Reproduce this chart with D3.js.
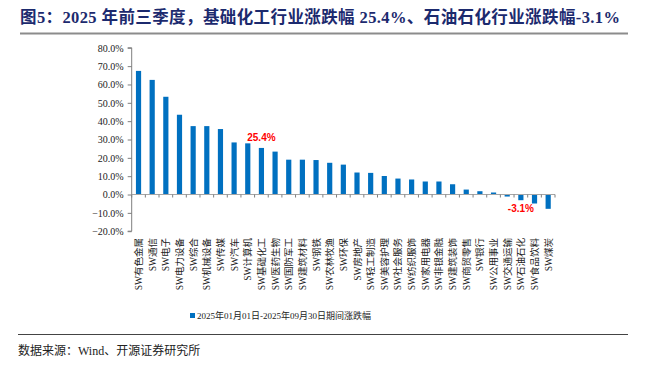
<!DOCTYPE html>
<html><head><meta charset="utf-8">
<script src="https://cdn.jsdelivr.net/npm/d3@7"></script>
<style>body{margin:0;background:#fff;}svg{display:block;}</style>
</head><body>
<svg id="c" width="648" height="369"></svg>
<script>
const categories = ["SW有色金属","SW通信","SW电子","SW电力设备","SW综合","SW机械设备","SW传媒","SW汽车","SW计算机","SW基础化工","SW医药生物","SW国防军工","SW建筑材料","SW钢铁","SW农林牧渔","SW环保","SW房地产","SW轻工制造","SW美容护理","SW社会服务","SW纺织服饰","SW家用电器","SW非银金融","SW建筑装饰","SW商贸零售","SW银行","SW公用事业","SW交通运输","SW石油石化","SW食品饮料","SW煤炭"];
const values = [67.4,62.5,53.3,43.5,37.3,37.3,35.7,28.4,27.9,25.4,23.4,19.0,19.0,18.8,17.3,16.3,12.0,11.8,10.1,8.7,8.2,7.1,7.1,5.6,2.7,1.8,1.1,-1.1,-3.1,-4.9,-7.8];
const yTicks = [80,70,60,50,40,30,20,10,0,-10,-20];
const seriesName = "2025年01月01日-2025年09月30日期间涨跌幅";
const highlights = [{name:"SW基础化工", text:"25.4%"},{name:"SW石油石化", text:"-3.1%"}];
const titleText = "图5：2025 年前三季度，基础化工行业涨跌幅 25.4%、石油石化行业涨跌幅-3.1%";
const sourceText = "数据来源：Wind、开源证券研究所";

const svg = d3.select("#c");
const serif = "'Liberation Serif','Times New Roman','Noto Sans CJK SC',serif";
const cjk = "'Liberation Serif','Noto Sans CJK SC',serif";

// title
svg.append("text").attr("x",20).attr("y",23).attr("font-family",cjk)
  .attr("font-weight","bold").attr("font-size",16.5).attr("fill","#1c2a6e")
  .attr("textLength",600).attr("lengthAdjust","spacing").text(titleText);
svg.append("line").attr("x1",20).attr("x2",628).attr("y1",33.5).attr("y2",33.5).attr("stroke","#8c8c8c").attr("stroke-width",2);

const x = d3.scaleBand().domain(categories).range([131.7,555]).paddingInner(0.62).paddingOuter(0.31);
const y = d3.scaleLinear().domain([-20,80]).range([231.2,47.8]);

// y axis
const yAxis = d3.axisLeft(y).tickValues(yTicks).tickSize(4).tickFormat(d=>d3.format(".1f")(d)+"%");
const gy = svg.append("g").attr("transform","translate(131.7,0)").call(yAxis);
gy.select(".domain").attr("stroke","#7f7f7f").attr("d","M-4,"+y(80)+"H0V"+y(-20)+"H-4");
gy.selectAll(".tick line").attr("stroke","#7f7f7f");
gy.selectAll(".tick text").attr("font-family",serif).attr("font-size",10).attr("fill","#222").attr("x",-8);

// bars
svg.append("g").selectAll("rect").data(categories).join("rect")
  .attr("x",d=>x(d)).attr("width",x.bandwidth())
  .attr("y",(d,i)=>y(Math.max(0,values[i])))
  .attr("height",(d,i)=>Math.abs(y(values[i])-y(0)))
  .attr("fill","#0070c0");

// x axis at zero
const gx = svg.append("g").attr("transform","translate(0,"+y(0)+")");
gx.append("line").attr("x1",131.7).attr("x2",555).attr("stroke","#a6a6a6").attr("stroke-width",1.2);
const bounds = categories.map(c=>x(c)-x.step()*x.paddingInner()/2).concat([555]);
gx.selectAll("line.t").data(bounds).join("line").attr("class","t")
  .attr("x1",d=>d).attr("x2",d=>d).attr("y1",0).attr("y2",3).attr("stroke","#7f7f7f");

// x labels
svg.append("g").selectAll("text").data(categories).join("text")
  .attr("transform",d=>"translate("+(x(d)+x.bandwidth()/2+3.5)+",238) rotate(-90)")
  .attr("text-anchor","end").attr("font-family",cjk).attr("font-size",9.5).attr("fill","#222").text(d=>d);

// highlights
highlights.forEach(h=>{
  const i = categories.indexOf(h.name);
  const v = values[i];
  svg.append("text").attr("x",x(h.name)+x.bandwidth()/2)
    .attr("y", v>=0 ? y(v)-7 : y(v)+12)
    .attr("text-anchor","middle").attr("font-family","'Liberation Sans',Arial,sans-serif")
    .attr("font-weight","bold").attr("font-size",10).attr("fill","#ff0000").text(h.text);
});

// legend
const lg = svg.append("g");
lg.append("rect").attr("x",190).attr("y",313).attr("width",5).attr("height",5).attr("fill","#0070c0");
lg.append("text").attr("x",197).attr("y",319).attr("font-family",cjk).attr("font-size",9).attr("fill","#222").text(seriesName);

// source
svg.append("line").attr("x1",18).attr("x2",628).attr("y1",334.5).attr("y2",334.5).attr("stroke","#444").attr("stroke-width",1);
svg.append("text").attr("x",18).attr("y",355).attr("font-family",cjk).attr("font-size",12).attr("fill","#222").text(sourceText);
</script>
</body></html>
